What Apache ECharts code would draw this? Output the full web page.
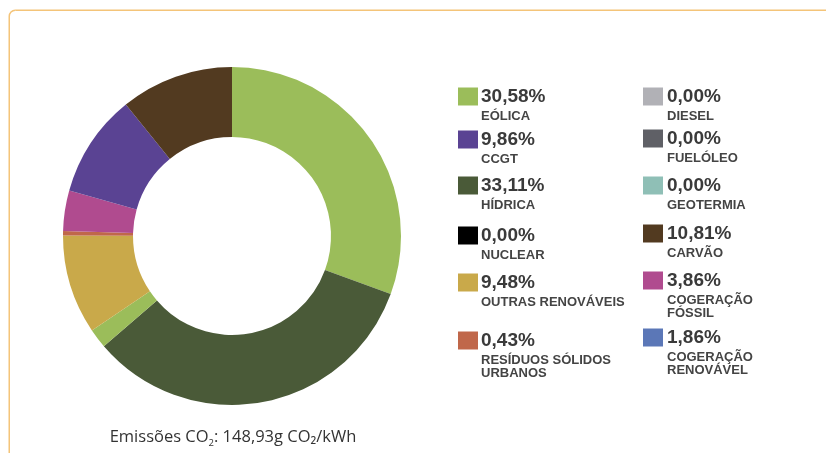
<!DOCTYPE html>
<html>
<head>
<meta charset="utf-8">
<script src="https://cdn.jsdelivr.net/npm/echarts@6/dist/echarts.min.js"></script>
<style>
  html, body { margin: 0; padding: 0; background: #fff; }
  #chart { width: 826px; height: 453px; }
</style>
</head>
<body>
<div id="chart"></div>
<script>
// legend order: left column first, then right column
const sources = ['Eólica', 'CCGT', 'Hídrica', 'Nuclear', 'Outras Renováveis', 'Resíduos Sólidos Urbanos',
  'Diesel', 'Fuelóleo', 'Geotermia', 'Carvão', 'Cogeração Fóssil', 'Cogeração Renovável'];
const labels = ['EÓLICA', 'CCGT', 'HÍDRICA', 'NUCLEAR', 'OUTRAS RENOVÁVEIS', 'RESÍDUOS SÓLIDOS\nURBANOS',
  'DIESEL', 'FUELÓLEO', 'GEOTERMIA', 'CARVÃO', 'COGERAÇÃO\nFÓSSIL', 'COGERAÇÃO\nRENOVÁVEL'];
const shares = [30.58, 9.86, 33.11, 0, 9.48, 0.43, 0, 0, 0, 10.81, 3.86, 1.86];
const legendColors = ['#9bbd5a', '#5a4393', '#4a5a38', '#000000', '#c9a94a', '#c0674a',
  '#b1b1b6', '#5f6066', '#8fbfb6', '#523a20', '#b04b8f', '#5b77b7'];
// slice order clockwise from 12 o'clock, as drawn in the donut
const sliceOrder = ['Eólica', 'Hídrica', 'Cogeração Renovável', 'Outras Renováveis', 'Resíduos Sólidos Urbanos',
  'Cogeração Fóssil', 'CCGT', 'Carvão', 'Nuclear', 'Diesel', 'Fuelóleo', 'Geotermia'];
const sliceColors = {
  'Cogeração Renovável': '#9bbd5a'
};
const emissions = '148,93';

// legend layout (square top-left of each row)
const colX = [458, 643];
const rowTop = [[88, 131, 177, 227, 274, 332], [88, 130, 177, 225, 272, 329]];

const chart = echarts.init(document.getElementById('chart'));

const fmtPct = v => v.toFixed(2).replace('.', ',') + '%';

const legends = sources.map((name, i) => {
  const col = i < 6 ? 0 : 1;
  const row = i % 6;
  const pct = fmtPct(shares[i]);
  const lines = labels[i].split('\n').map(l => `{n|${l}}`).join('\n');
  return {
    data: [name],
    left: colX[col] - 5,
    top: rowTop[col][row] - 1,
    padding: 0,
    itemWidth: 0,
    itemHeight: 0,
    itemGap: 0,
    textGap: 0,
    selectedMode: false,
    formatter: () => `{sq|}{p|${pct}}\n${lines}`,
    textStyle: {
      fontFamily: 'Liberation Sans, Arial, sans-serif',
      rich: {
        sq: { width: 20, height: 18, backgroundColor: legendColors[i] },
        p: {
          fontSize: 19, fontWeight: 'bold', color: '#3a3a3a', lineHeight: 27,
          padding: [0, 0, 0, col === 0 ? 3 : 4]
        },
        n: {
          fontSize: 13, fontWeight: 'bold', color: '#444', lineHeight: 13,
          padding: [0, 0, 0, col === 0 ? 23 : 24]
        }
      }
    }
  };
});

const pieData = sliceOrder.map(name => {
  const i = sources.indexOf(name);
  return {
    name: name,
    value: shares[i],
    itemStyle: { color: sliceColors[name] || legendColors[i] }
  };
});

const option = {
  backgroundColor: '#fff',
  animation: false,
  title: {
    text: `{a|Emissões CO}{s|2}{a|: ${emissions}g CO₂/kWh}`,
    left: 233,
    top: 426,
    textAlign: 'center',
    padding: 0,
    textStyle: {
      fontWeight: 'normal',
      rich: {
        a: { fontSize: 16.5, fontWeight: 'normal', color: '#333', fontFamily: 'Open Sans, sans-serif', lineHeight: 22 },
        s: { fontSize: 9.5, fontWeight: 'normal', color: '#333', fontFamily: 'Open Sans, sans-serif', verticalAlign: 'bottom', lineHeight: 22 }
      }
    }
  },
  legend: legends,
  graphic: [
    {
      type: 'rect',
      silent: true,
      shape: { x: 9.25, y: 10.25, width: 1000, height: 1000, r: 6 },
      style: { fill: 'none', stroke: '#f4c479', lineWidth: 1.5 }
    }
  ],
  series: [
    {
      type: 'pie',
      center: [232, 236],
      radius: [99, 169],
      startAngle: 90,
      clockwise: true,
      label: { show: false },
      labelLine: { show: false },
      emphasis: { disabled: true },
      itemStyle: { borderWidth: 0 },
      data: pieData
    }
  ]
};

chart.setOption(option);
</script>
</body>
</html>
